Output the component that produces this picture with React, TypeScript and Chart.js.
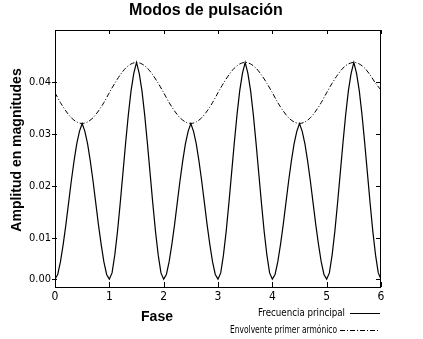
import React, { useEffect, useRef } from "react";
import { Chart, registerables } from "chart.js";

Chart.register(...registerables);

// ---- data ----
const PHASE_STEP_MAIN = 0.05;
const PHASE_STEP_ENV = 0.1;

// Frecuencia principal (amplitude, sampled every 0.05 in phase from 0 to 6)
const mainValues: number[] = [
  // 0 -> 1
  0.0022, 0.0031, 0.0055, 0.0088, 0.0126, 0.0168, 0.0210, 0.0248, 0.0281, 0.0305,
  0.0320, 0.0305, 0.0281, 0.0248, 0.0210, 0.0168, 0.0126, 0.0088, 0.0055, 0.0031,
  // 1 -> 2
  0.0022, 0.0034, 0.0068, 0.0113, 0.0167, 0.0225, 0.0283, 0.0337, 0.0383, 0.0416,
  0.0437, 0.0416, 0.0383, 0.0337, 0.0283, 0.0225, 0.0167, 0.0113, 0.0068, 0.0034,
  // 2 -> 3
  0.0022, 0.0031, 0.0055, 0.0088, 0.0126, 0.0168, 0.0210, 0.0248, 0.0281, 0.0305,
  0.0320, 0.0305, 0.0281, 0.0248, 0.0210, 0.0168, 0.0126, 0.0088, 0.0055, 0.0031,
  // 3 -> 4
  0.0022, 0.0034, 0.0068, 0.0113, 0.0167, 0.0225, 0.0283, 0.0337, 0.0383, 0.0416,
  0.0437, 0.0416, 0.0383, 0.0337, 0.0283, 0.0225, 0.0167, 0.0113, 0.0068, 0.0034,
  // 4 -> 5
  0.0022, 0.0031, 0.0055, 0.0088, 0.0126, 0.0168, 0.0210, 0.0248, 0.0281, 0.0305,
  0.0320, 0.0305, 0.0281, 0.0248, 0.0210, 0.0168, 0.0126, 0.0088, 0.0055, 0.0031,
  // 5 -> 6
  0.0022, 0.0034, 0.0068, 0.0113, 0.0167, 0.0225, 0.0283, 0.0337, 0.0383, 0.0416,
  0.0437, 0.0416, 0.0383, 0.0337, 0.0283, 0.0225, 0.0167, 0.0113, 0.0068, 0.0034,
  0.0022,
];

// Envolvente primer armónico (sampled every 0.1 in phase from 0 to 6)
const envelopeValues: number[] = [
  0.0379, 0.0360, 0.0344, 0.0331, 0.0323, 0.0320, 0.0323, 0.0331, 0.0344, 0.0360,
  0.0379, 0.0397, 0.0413, 0.0426, 0.0434, 0.0437, 0.0434, 0.0426, 0.0413, 0.0397,
  0.0379, 0.0360, 0.0344, 0.0331, 0.0323, 0.0320, 0.0323, 0.0331, 0.0344, 0.0360,
  0.0379, 0.0397, 0.0413, 0.0426, 0.0434, 0.0437, 0.0434, 0.0426, 0.0413, 0.0397,
  0.0379, 0.0360, 0.0344, 0.0331, 0.0323, 0.0320, 0.0323, 0.0331, 0.0344, 0.0360,
  0.0379, 0.0397, 0.0413, 0.0426, 0.0434, 0.0437, 0.0434, 0.0426, 0.0413, 0.0397,
  0.0384,
];

const xTickValues = [0, 1, 2, 3, 4, 5, 6];
const yTickValues = [0.0022, 0.01, 0.02, 0.03, 0.04];
const yTickLabels = ["0.00", "0.01", "0.02", "0.03", "0.04"];

const TITLE = "Modos de pulsación";
const X_TITLE = "Fase";
const Y_TITLE = "Amplitud en magnitudes";
const LEGEND_MAIN = "Frecuencia principal";
const LEGEND_ENV = "Envolvente primer armónico";

const NARROW = '"Liberation Sans Narrow", "DejaVu Sans Condensed", "Liberation Sans", Arial, sans-serif';
const SANS = '"Liberation Sans", Arial, sans-serif';

const decorPlugin = {
  id: "decor",
  afterDraw(chart: any) {
    const ctx = chart.ctx as CanvasRenderingContext2D;
    const ca = chart.chartArea;
    const xs = chart.scales.x;
    const ys = chart.scales.y;
    ctx.save();
    ctx.strokeStyle = "#000";
    ctx.lineWidth = 1;
    ctx.setLineDash([]);
    // frame
    ctx.strokeRect(ca.left + 0.5, ca.top + 0.5, ca.right - ca.left - 1, ca.bottom - ca.top);
    // x ticks (inward, bottom and top)
    ctx.beginPath();
    xs.ticks.forEach((t: any) => {
      const px = Math.round(xs.getPixelForValue(t.value)) + 0.5;
      ctx.moveTo(px, ca.bottom);
      ctx.lineTo(px, ca.bottom - 5);
      ctx.moveTo(px, ca.top);
      ctx.lineTo(px, ca.top + 4);
    });
    // y ticks
    ys.ticks.forEach((t: any) => {
      const py = Math.round(ys.getPixelForValue(t.value)) + 0.5;
      ctx.moveTo(ca.left - 3, py);
      ctx.lineTo(ca.left + 2, py);
      ctx.moveTo(ca.right - 1, py);
      ctx.lineTo(ca.right - 5, py);
    });
    ctx.stroke();

    ctx.fillStyle = "#000";
    // title
    ctx.font = `bold 16px ${SANS}`;
    ctx.textAlign = "center";
    ctx.textBaseline = "alphabetic";
    ctx.fillText(TITLE, 206, 15);
    // x title
    ctx.font = `bold 14px ${SANS}`;
    ctx.textBaseline = "middle";
    ctx.fillText(X_TITLE, 157, 317);
    // y title
    ctx.save();
    ctx.translate(17, 150);
    ctx.rotate(-Math.PI / 2);
    ctx.fillText(Y_TITLE, 0, 0);
    ctx.restore();

    // legend
    ctx.font = `10px ${NARROW}`;
    ctx.textAlign = "right";
    ctx.textBaseline = "middle";
    ctx.fillText(LEGEND_MAIN, 345, 313, 87);
    ctx.fillText(LEGEND_ENV, 337, 330, 107);
    ctx.beginPath();
    ctx.moveTo(350, 313.5);
    ctx.lineTo(380, 313.5);
    ctx.stroke();
    ctx.setLineDash([5, 2, 1, 2]);
    ctx.beginPath();
    ctx.moveTo(340, 330.5);
    ctx.lineTo(380, 330.5);
    ctx.stroke();
    ctx.restore();
  },
};

export default function App() {
  const ref = useRef<HTMLCanvasElement | null>(null);
  useEffect(() => {
    if (!ref.current) return;
    const mainData = mainValues.map((v, i) => ({ x: i * PHASE_STEP_MAIN, y: v }));
    const envData = envelopeValues.map((v, i) => ({ x: i * PHASE_STEP_ENV, y: v }));
    const chart = new Chart(ref.current, {
      type: "line",
      data: {
        datasets: [
          {
            label: LEGEND_MAIN,
            data: mainData,
            borderColor: "#000",
            borderWidth: 1.2,
            pointRadius: 0,
            fill: false,
            tension: 0,
          },
          {
            label: LEGEND_ENV,
            data: envData,
            borderColor: "#000",
            borderWidth: 1,
            borderDash: [5, 2, 1, 2],
            pointRadius: 0,
            fill: false,
            tension: 0.3,
          },
        ],
      },
      options: {
        animation: false,
        responsive: false,
        maintainAspectRatio: false,
        layout: { padding: { top: 30, right: 42, left: 0, bottom: 0 } },
        plugins: {
          legend: { display: false },
          title: { display: false },
          tooltip: { enabled: false },
        },
        scales: {
          x: {
            type: "linear",
            min: 0,
            max: 6,
            grid: { display: false, drawTicks: false },
            border: { display: false },
            afterFit: (s: any) => {
              s.height = 52;
            },
            afterBuildTicks: (s: any) => {
              s.ticks = xTickValues.map((v) => ({ value: v }));
            },
            ticks: {
              padding: 3,
              color: "#000",
              font: { family: NARROW, size: 12 },
              callback: (v: any) => String(v),
            },
          },
          y: {
            type: "linear",
            min: 0.0007,
            max: 0.0499,
            grid: { display: false, drawTicks: false },
            border: { display: false },
            afterFit: (s: any) => {
              s.width = 55;
            },
            afterBuildTicks: (s: any) => {
              s.ticks = yTickValues.map((v) => ({ value: v }));
            },
            ticks: {
              padding: 4,
              color: "#000",
              font: { family: NARROW, size: 11 },
              callback: (v: any) => {
                const i = yTickValues.indexOf(v);
                return i >= 0 ? yTickLabels[i] : "";
              },
            },
          },
        },
      },
      plugins: [decorPlugin],
    });
    return () => chart.destroy();
  }, []);
  return (
    <div style={{ position: "absolute", left: 0, top: 0, width: 423, height: 339, background: "#fff" }}>
      <canvas ref={ref} width={423} height={339} style={{ width: 423, height: 339 }} />
    </div>
  );
}
